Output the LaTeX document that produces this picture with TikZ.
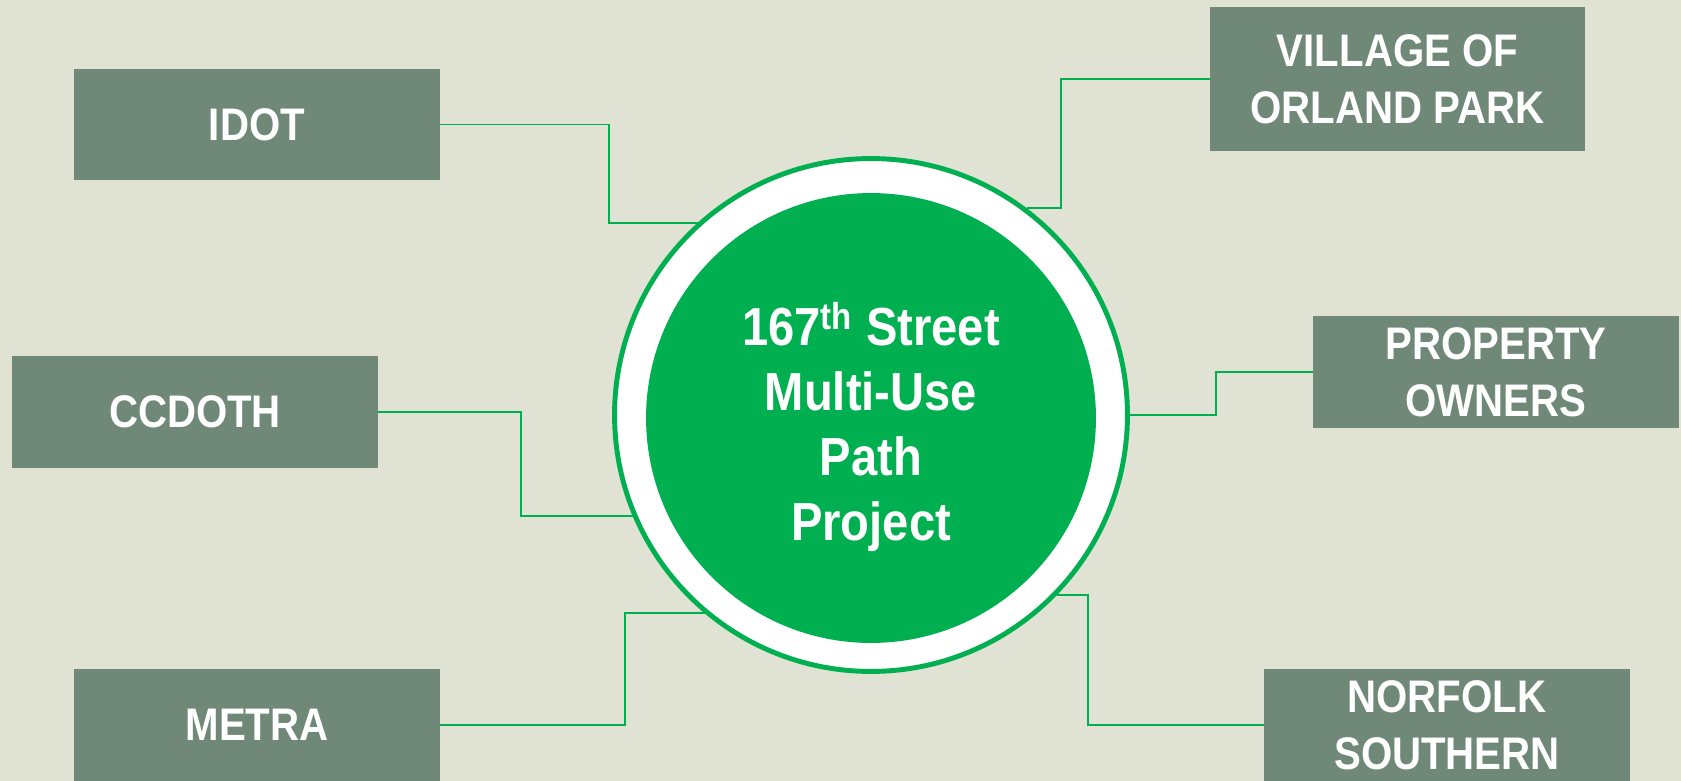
\documentclass[tikz,border=0pt]{standalone}
\usepackage{fontspec}
\setmainfont{Liberation Sans}
\newfontfamily\labelfont[FakeStretch=0.88]{Liberation Sans}
\definecolor{paper}{HTML}{E0E2D4}
\definecolor{slate}{HTML}{6F8878}
\definecolor{leaf}{HTML}{00AF50}

\begin{document}
\begin{tikzpicture}[x=0.02cm,y=-0.02cm,
  party/.style={rectangle,fill=slate,text=white,minimum width=7.32cm,minimum height=2.24cm,inner sep=0pt,align=center,font=\labelfont\bfseries\fontsize{26}{32.3}\selectfont},
  link/.style={draw=leaf,line width=1.1pt}]

\useasboundingbox (0,0) rectangle (1681,781);
\fill[paper] (0,0) rectangle (1681,781);

\node[circle,fill=white,draw=leaf,line width=2.8pt,minimum size=10.26cm,inner sep=0pt] (ring) at (871,415) {};
\node[circle,fill=leaf,minimum size=9cm,inner sep=0pt] (core) at (871,418) {};
\node[text=white,align=center,font=\labelfont\bfseries\fontsize{30.5}{37}\selectfont] (title) at (871,427) {167\textsuperscript{th} Street\\Multi-Use\\Path\\Project};

\node[party] (idot) at (257,124.5) {IDOT};
\node[party] (ccdoth) at (195,412) {CCDOTH};
\node[party] (metra) at (257,725) {METRA};
\node[party,minimum width=7.5cm,minimum height=2.88cm] (village) at (1397.5,79) {VILLAGE OF\\ORLAND PARK};
\node[party] (property) at (1496,372) {PROPERTY\\OWNERS};
\node[party] (norfolk) at (1447,725) {NORFOLK\\SOUTHERN};

\draw[link] (idot.east) -- ++(169,0) |- (ring.132.2);
\draw[link] (ccdoth.east) -- ++(143,0) |- (ring.203.2);
\draw[link] (metra.east) -- ++(185,0) |- (ring.230.9);
\draw[link] (village.west) -- ++(-149,0) |- (ring.53.4);
\draw[link] (property.west) -- ++(-97,0) |- (ring.0.7);
\draw[link] (norfolk.west) -- ++(-176,0) |- (ring.316);
\end{tikzpicture}
\end{document}
